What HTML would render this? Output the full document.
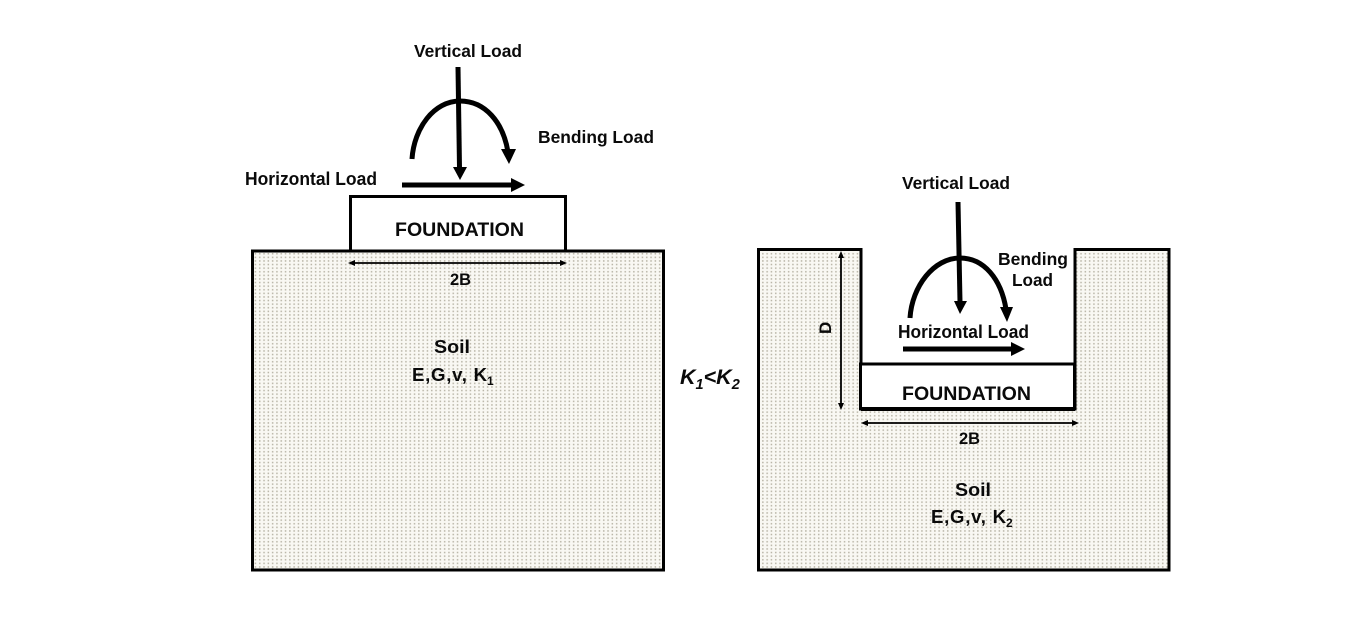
<!DOCTYPE html>
<html>
<head>
<meta charset="utf-8">
<style>
html,body{margin:0;padding:0;background:#fff;width:1366px;height:617px;overflow:hidden}
svg{display:block;filter:blur(0.35px)}
text{font-family:"Liberation Sans",sans-serif;font-weight:bold;fill:#0a0a0a}
</style>
</head>
<body>
<svg width="1366" height="617" viewBox="0 0 1366 617" xmlns="http://www.w3.org/2000/svg">
<defs>
<pattern id="dots" width="4.3" height="3.6" patternUnits="userSpaceOnUse">
<rect width="4.3" height="3.6" fill="#f9f8f3"/>
<rect x="1" y="1" width="1.5" height="1.5" fill="#b8b4a6"/>
</pattern>
</defs>

<!-- LEFT -->
<rect x="252.5" y="251" width="411" height="319" fill="url(#dots)" stroke="#000" stroke-width="3"/>
<rect x="350.5" y="196.5" width="215" height="54.5" fill="#fff" stroke="#000" stroke-width="3"/>
<path d="M412 159 C414 128 434 101 460 101 C485 101 503 122 508 152" fill="none" stroke="#000" stroke-width="5"/>
<polygon points="501,149 516,149 509,164" fill="#000"/>
<line x1="458" y1="67" x2="459.5" y2="168" stroke="#000" stroke-width="5"/>
<polygon points="453,167 467,167 460,180" fill="#000"/>
<line x1="402" y1="185" x2="512" y2="185" stroke="#000" stroke-width="5"/>
<polygon points="511,178 525,185 511,192" fill="#000"/>
<line x1="351" y1="263" x2="564" y2="263" stroke="#000" stroke-width="1.8"/>
<polygon points="348,263 355,260 355,266" fill="#000"/>
<polygon points="567,263 560,260 560,266" fill="#000"/>

<text x="414" y="57" font-size="17.3" textLength="108" lengthAdjust="spacingAndGlyphs">Vertical Load</text>
<text x="538" y="143" font-size="17.4" textLength="116" lengthAdjust="spacingAndGlyphs">Bending Load</text>
<text x="245" y="185" font-size="18" textLength="132" lengthAdjust="spacingAndGlyphs">Horizontal Load</text>
<text x="395" y="236" font-size="19.5" textLength="129" lengthAdjust="spacingAndGlyphs">FOUNDATION</text>
<text x="450" y="285" font-size="16.5">2B</text>
<text x="434" y="353" font-size="18.6" textLength="36" lengthAdjust="spacingAndGlyphs">Soil</text>
<text x="412" y="381" font-size="18.6" textLength="75" lengthAdjust="spacing">E,G,v, K</text>
<text x="487" y="385" font-size="12">1</text>

<!-- MIDDLE -->
<text x="680" y="384" font-size="21.5" font-style="italic">K<tspan font-size="14.5" dy="5">1</tspan><tspan dy="-5">&lt;K</tspan><tspan font-size="14.5" dy="5">2</tspan></text>

<!-- RIGHT -->
<path d="M758.5 249.5 H861 V409 H1075 V249.5 H1169 V570 H758.5 Z" fill="url(#dots)" stroke="#000" stroke-width="3"/>
<rect x="860.5" y="364" width="214" height="45" fill="#fff" stroke="#000" stroke-width="3"/>
<line x1="861" y1="409" x2="1075" y2="409" stroke="#000" stroke-width="4"/>
<path d="M910 318 C912 286 934 258 960 258 C984 258 1001 279 1006 309" fill="none" stroke="#000" stroke-width="5"/>
<polygon points="1000,307 1013,307 1007,322" fill="#000"/>
<line x1="958" y1="202" x2="960" y2="302" stroke="#000" stroke-width="5"/>
<polygon points="954,301 967,301 960,314" fill="#000"/>
<line x1="903" y1="349" x2="1012" y2="349" stroke="#000" stroke-width="5"/>
<polygon points="1011,342 1025,349 1011,356" fill="#000"/>
<line x1="864" y1="423" x2="1076" y2="423" stroke="#000" stroke-width="1.8"/>
<polygon points="861,423 868,420 868,426" fill="#000"/>
<polygon points="1079,423 1072,420 1072,426" fill="#000"/>
<line x1="841" y1="254" x2="841" y2="406" stroke="#000" stroke-width="1.8"/>
<polygon points="841,251 838,258 844,258" fill="#000"/>
<polygon points="841,410 838,403 844,403" fill="#000"/>

<text x="902" y="189" font-size="17.3" textLength="108" lengthAdjust="spacingAndGlyphs">Vertical Load</text>
<text x="998" y="265" font-size="17.4" textLength="70" lengthAdjust="spacingAndGlyphs">Bending</text>
<text x="1012" y="286" font-size="17.4" textLength="41" lengthAdjust="spacingAndGlyphs">Load</text>
<text x="898" y="338" font-size="18" textLength="131" lengthAdjust="spacingAndGlyphs">Horizontal Load</text>
<text x="902" y="400" font-size="19.5" textLength="129" lengthAdjust="spacingAndGlyphs">FOUNDATION</text>
<text x="959" y="444" font-size="16.5">2B</text>
<text x="955" y="496" font-size="18.6" textLength="36" lengthAdjust="spacingAndGlyphs">Soil</text>
<text x="931" y="523" font-size="18.6" textLength="75" lengthAdjust="spacing">E,G,v, K</text>
<text x="1006" y="527" font-size="12">2</text>
<text transform="translate(831,334) rotate(-90)" font-size="17">D</text>
</svg>
</body>
</html>
